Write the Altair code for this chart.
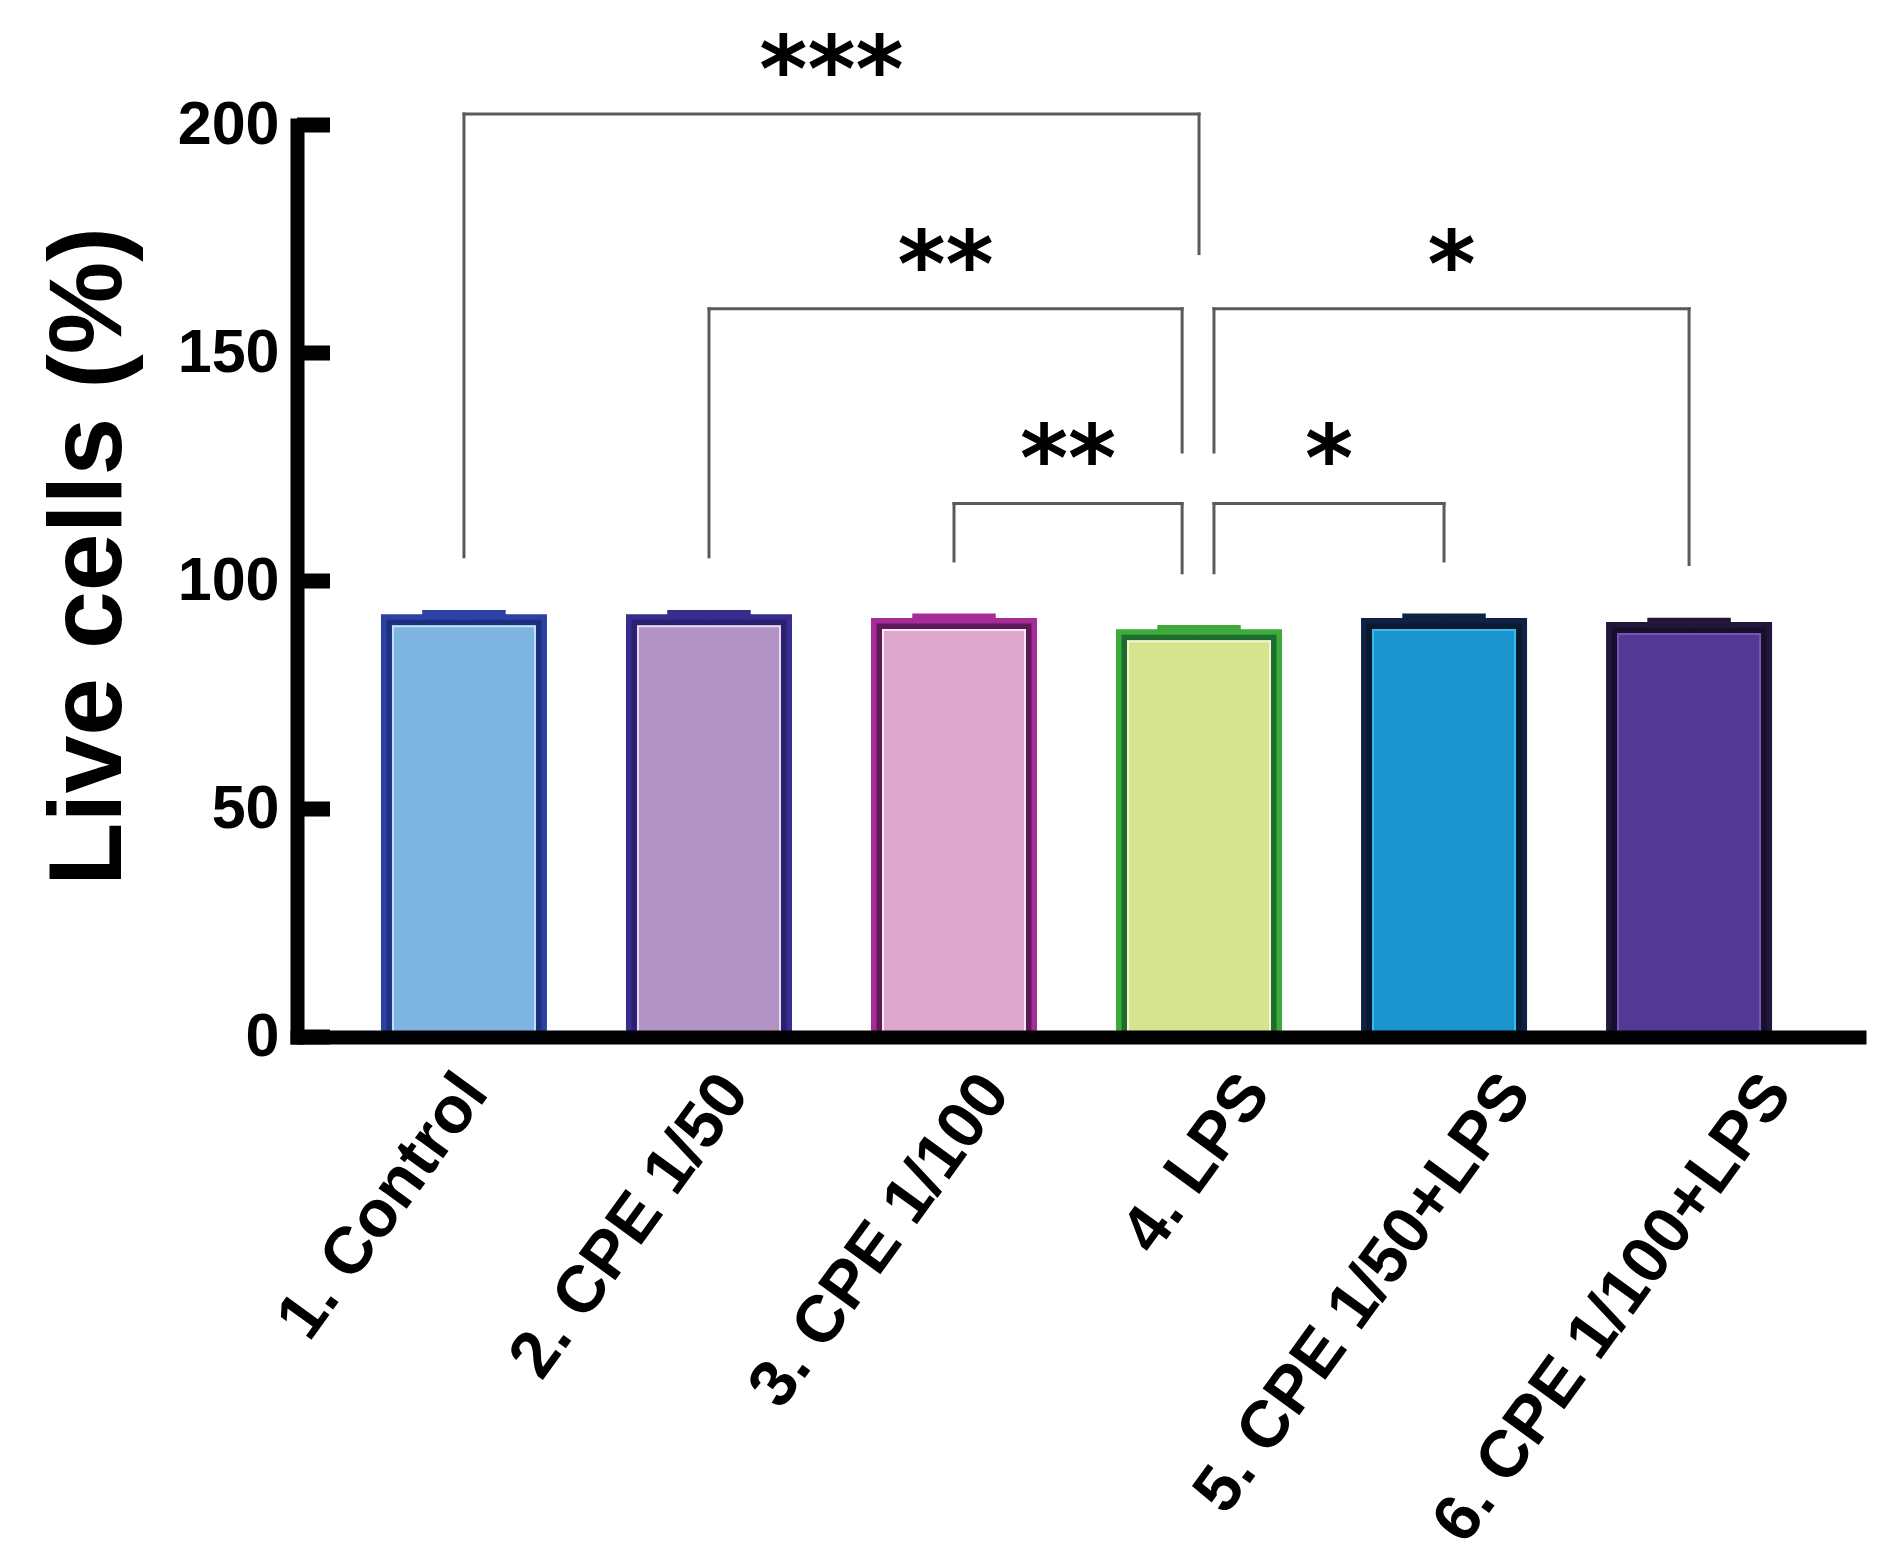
import altair as alt
import pandas as pd

# ---------------- data ----------------
categories = ["1. Control", "2. CPE 1/50", "3. CPE 1/100", "4. LPS",
              "5. CPE 1/50+LPS", "6. CPE 1/100+LPS"]
values = [91.5, 91.5, 90.7, 88.2, 90.7, 89.8]
errors = [1.4, 1.4, 1.4, 1.4, 1.4, 1.4]

fill_colors = ["#7DB4E2", "#B194C5", "#DEA8CC", "#D6E38F", "#1B93CD", "#533896"]
outer_colors = ["#2C42A2", "#372C90", "#A52C99", "#3DAA3A", "#0E2244", "#22173A"]
inner_colors = ["#1F2F80", "#2A1F70", "#5E1A58", "#1D6B2E", "#0A1830", "#180F2C"]
highlight_colors = ["#BFE4F8", "#EBD9EE", "#FBEAF4", "#F7F6D2", "#35BEEC", "#7656B3"]

y_ticks = [0, 50, 100, 150, 200]

# significance brackets
br_left = [1, 2, 4, 3, 4]
br_right = [4, 4, 6, 4, 5]
br_left_nudge = [0.0, 0.0, 0.061, 0.0, 0.061]
br_right_nudge = [0.0, -0.069, 0.0, -0.069, 0.0]
br_top = [202.4, 159.7, 159.7, 117.0, 117.0]
br_left_bottom = [105.3, 105.3, 128.3, 104.4, 101.8]
br_right_bottom = [171.8, 128.3, 103.6, 101.8, 104.4]
br_label = ["***", "**", "*", "**", "*"]

# ---------------- layout constants (style) ----------------
PLOT_W, PLOT_H = 1562, 912
PX = PLOT_H / 200.0          # pixels per y unit
BAR_W = 155
STROKE = 11
CAP_W = 84
FONT = "Liberation Sans, Arial, sans-serif"

df = pd.DataFrame({
    "idx": list(range(1, len(categories) + 1)),
    "cat": categories,
    "value": values,
    "err": errors,
    "fill_c": fill_colors,
    "outer_c": outer_colors,
    "inner_c": inner_colors,
    "hl_c": highlight_colors,
})
df["top"] = df["value"] + df["err"]

seg_rows = []
txt_rows = []
for i in range(len(br_label)):
    xl = br_left[i] + br_left_nudge[i]
    xr = br_right[i] + br_right_nudge[i]
    t = br_top[i]
    seg_rows.append({"x": xl, "x2": xl, "y": br_left_bottom[i], "y2": t})
    seg_rows.append({"x": xl, "x2": xr, "y": t, "y2": t})
    seg_rows.append({"x": xr, "x2": xr, "y": br_right_bottom[i], "y2": t})
    txt_rows.append({"x": (xl + xr) / 2, "y": t, "label": br_label[i]})
seg_df = pd.DataFrame(seg_rows)
txt_df = pd.DataFrame(txt_rows)
tick_df = pd.DataFrame({"t": y_ticks})

step = 246.6
x0 = 1 - 163 / step
xs = alt.Scale(domain=[x0, x0 + PLOT_W / step], nice=False, zero=False)
ys = alt.Scale(domain=[0, 200], nice=False, zero=True)

y_axis = alt.Axis(
    values=y_ticks, ticks=False, grid=False,
    domainColor="black", domainWidth=14, domainCap="square",
    labelFont=FONT, labelFontSize=61, labelFontWeight="bold", labelColor="black",
    labelPadding=18, labelFlush=False,
    title="Live cells (%)", titleFont=FONT, titleFontSize=104, titleFontWeight="bold",
    titleColor="black", titleAngle=270, titleAlign="center", titleBaseline="alphabetic",
    titleX=-177, titleY=431, zindex=1,
)
x_axis = alt.Axis(
    values=list(df["idx"]), labels=False, ticks=False, grid=False,
    domainColor="black", domainWidth=14, domainCap="square", title=None, zindex=3,
)


def X(field):
    return alt.X(field, scale=xs, axis=x_axis)


def Y(field):
    return alt.Y(field, scale=ys, axis=y_axis)


base = alt.Chart(df)

bars = base.mark_bar(size=BAR_W, strokeWidth=STROKE).encode(
    x=X("idx:Q"),
    y=Y("value:Q"),
    fill=alt.Fill("fill_c:N", scale=None, legend=None),
    stroke=alt.Stroke("outer_c:N", scale=None, legend=None),
)

inner_ring = base.transform_calculate(
    v_in=f"datum.value - {STROKE / 4} / {PX}"
).mark_bar(size=BAR_W - STROKE / 2, strokeWidth=STROKE / 2, fillOpacity=0).encode(
    x=X("idx:Q"),
    y=Y("v_in:Q"),
    stroke=alt.Stroke("inner_c:N", scale=None, legend=None),
)

highlight = base.transform_calculate(
    v_hl=f"datum.value - {STROKE / 2 + 1} / {PX}"
).mark_bar(size=BAR_W - STROKE - 2, strokeWidth=2, fillOpacity=0).encode(
    x=X("idx:Q"),
    y=Y("v_hl:Q"),
    stroke=alt.Stroke("hl_c:N", scale=None, legend=None),
)

err_line = base.mark_rule(strokeWidth=3).encode(
    x=X("idx:Q"),
    y=Y("value:Q"),
    y2="top:Q",
    color=alt.Color("outer_c:N", scale=None, legend=None),
)
err_cap = base.transform_calculate(
    cl=f"datum.idx - {CAP_W / 2} / {step}",
    cr=f"datum.idx + {CAP_W / 2} / {step}",
).mark_rule(strokeWidth=7).encode(
    x=X("cl:Q"),
    x2="cr:Q",
    y=Y("top:Q"),
    color=alt.Color("outer_c:N", scale=None, legend=None),
)

x_labels = base.transform_calculate(
    lx=f"datum.idx + (10 + 15.8 * (datum.idx - 1)) / {step}"
).mark_text(
    angle=306, align="right", baseline="middle", font=FONT, fontSize=66,
    fontWeight="bold", color="black",
).encode(
    x=X("lx:Q"),
    y=alt.value(PLOT_H + 45),
    text="cat:N",
)

yticks = alt.Chart(tick_df).mark_rule(strokeWidth=15, color="black").encode(
    y=Y("t:Q"),
    x=alt.value(0),
    x2=alt.value(33),
)

brackets = alt.Chart(seg_df).mark_rule(strokeWidth=3, color="#5A5A5A", strokeCap="square").encode(
    x=X("x:Q"),
    x2="x2:Q",
    y=Y("y:Q"),
    y2="y2:Q",
)
stars = alt.Chart(txt_df).mark_text(
    font="DejaVu Sans", fontSize=92, fontWeight="bold", baseline="alphabetic", align="center",
    color="black", dy=-12,
).encode(
    x=X("x:Q"),
    y=Y("y:Q"),
    text="label:N",
)

chart = alt.layer(
    bars, inner_ring, highlight, err_line, err_cap, yticks, brackets, stars, x_labels
).properties(
    width=PLOT_W, height=PLOT_H,
    autosize=alt.AutoSizeParams(type="none"),
    padding={"left": 297, "top": 125, "right": 1891 - 297 - PLOT_W, "bottom": 1565 - 125 - PLOT_H},
    background="white",
).configure_view(stroke=None)

chart.save("out.html", embed_options={"renderer": "svg", "actions": False})
